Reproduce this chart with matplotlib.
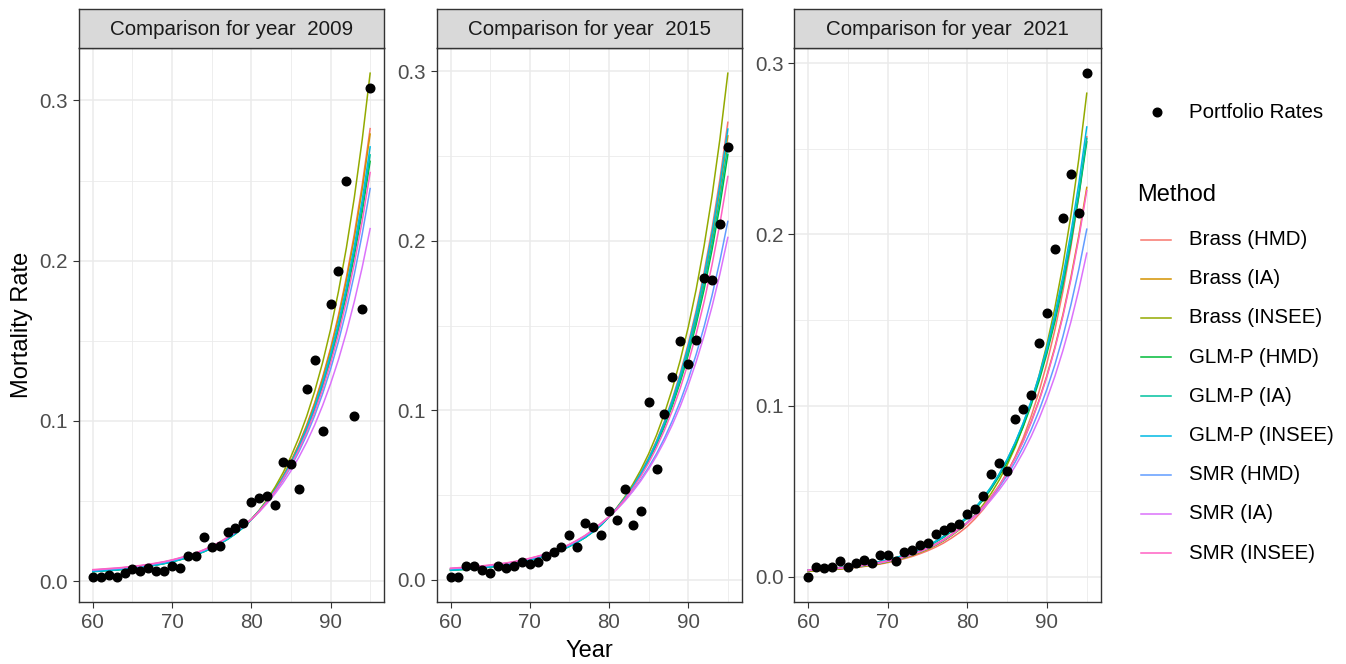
import matplotlib
matplotlib.use('Agg')
import matplotlib.pyplot as plt
from matplotlib.ticker import MultipleLocator, FormatStrFormatter

plt.rcParams['font.family'] = ['Liberation Sans', 'DejaVu Sans']

ages = list(range(60, 96))
years = [2009, 2015, 2021]
methods = ['Brass (HMD)', 'Brass (IA)', 'Brass (INSEE)',
           'GLM-P (HMD)', 'GLM-P (IA)', 'GLM-P (INSEE)',
           'SMR (HMD)', 'SMR (IA)', 'SMR (INSEE)']
colors = ['#F8766D', '#D39200', '#93AA00', '#00BA38', '#00C19F',
          '#00B9E3', '#619CFF', '#DB72FB', '#FF61C3']

# observed portfolio rates, ages 60..95
rates_2009 = [0.0027, 0.0027, 0.0037, 0.0027, 0.0048, 0.0073, 0.0064, 0.0085, 0.0064, 0.0064,
              0.0096, 0.0083, 0.0158, 0.0158, 0.0274, 0.0210, 0.0220, 0.0308, 0.0329, 0.0360,
              0.0497, 0.0520, 0.0532, 0.0476, 0.0742, 0.0732, 0.0572, 0.1200, 0.1380, 0.0934,
              0.1732, 0.1934, 0.2495, 0.1029, 0.1699, 0.3080]
rates_2015 = [0.0016, 0.0016, 0.0079, 0.0079, 0.0059, 0.0040, 0.0079, 0.0069, 0.0079, 0.0101,
              0.0089, 0.0101, 0.0141, 0.0160, 0.0190, 0.0263, 0.0190, 0.0333, 0.0313, 0.0263,
              0.0406, 0.0352, 0.0535, 0.0323, 0.0406, 0.1051, 0.0655, 0.0976, 0.1194, 0.1408,
              0.1273, 0.1416, 0.1780, 0.1770, 0.2100, 0.2554]
rates_2021 = [0.0000, 0.0059, 0.0049, 0.0059, 0.0094, 0.0059, 0.0080, 0.0100, 0.0080, 0.0129,
              0.0129, 0.0094, 0.0143, 0.0159, 0.0188, 0.0198, 0.0251, 0.0271, 0.0290, 0.0310,
              0.0369, 0.0398, 0.0473, 0.0600, 0.0663, 0.0620, 0.0922, 0.0980, 0.1061, 0.1363,
              0.1539, 0.1912, 0.2098, 0.2353, 0.2122, 0.2941]

# fitted curves, 2009
brass_hmd_2009 = [0.0067, 0.0070, 0.0074, 0.0077, 0.0082, 0.0087, 0.0093, 0.0100, 0.0108, 0.0117, 0.0128, 0.0141, 0.0155, 0.0172, 0.0191, 0.0213, 0.0239, 0.0269, 0.0303, 0.0343, 0.0385, 0.0440, 0.0502, 0.0574, 0.0655, 0.0748, 0.0854, 0.0976, 0.1114, 0.1273, 0.1453, 0.1660, 0.1896, 0.2165, 0.2473, 0.2824]
brass_ia_2009 = [0.0065, 0.0068, 0.0072, 0.0075, 0.0080, 0.0085, 0.0091, 0.0098, 0.0106, 0.0115, 0.0126, 0.0139, 0.0153, 0.0170, 0.0189, 0.0211, 0.0237, 0.0267, 0.0301, 0.0341, 0.0385, 0.0439, 0.0501, 0.0572, 0.0653, 0.0745, 0.0850, 0.0970, 0.1107, 0.1263, 0.1442, 0.1645, 0.1877, 0.2142, 0.2445, 0.2790]
brass_insee_2009 = [0.0063, 0.0066, 0.0070, 0.0073, 0.0078, 0.0083, 0.0089, 0.0096, 0.0104, 0.0113, 0.0124, 0.0137, 0.0151, 0.0168, 0.0187, 0.0209, 0.0235, 0.0265, 0.0299, 0.0339, 0.0385, 0.0443, 0.0510, 0.0587, 0.0676, 0.0777, 0.0895, 0.1030, 0.1185, 0.1364, 0.1570, 0.1807, 0.2080, 0.2393, 0.2755, 0.3170]
glm_hmd_2009 = [0.0059, 0.0062, 0.0066, 0.0069, 0.0074, 0.0079, 0.0085, 0.0092, 0.0100, 0.0109, 0.0120, 0.0133, 0.0147, 0.0164, 0.0183, 0.0205, 0.0231, 0.0261, 0.0295, 0.0335, 0.0385, 0.0438, 0.0497, 0.0565, 0.0642, 0.0730, 0.0829, 0.0942, 0.1071, 0.1217, 0.1382, 0.1571, 0.1785, 0.2029, 0.2305, 0.2620]
glm_ia_2009 = [0.0060, 0.0063, 0.0067, 0.0070, 0.0075, 0.0080, 0.0086, 0.0093, 0.0101, 0.0110, 0.0121, 0.0134, 0.0148, 0.0165, 0.0184, 0.0206, 0.0232, 0.0262, 0.0296, 0.0336, 0.0385, 0.0438, 0.0498, 0.0567, 0.0645, 0.0733, 0.0834, 0.0949, 0.1079, 0.1228, 0.1397, 0.1589, 0.1807, 0.2056, 0.2338, 0.2660]
glm_insee_2009 = [0.0061, 0.0064, 0.0068, 0.0071, 0.0076, 0.0081, 0.0087, 0.0094, 0.0102, 0.0111, 0.0122, 0.0135, 0.0149, 0.0166, 0.0185, 0.0207, 0.0233, 0.0263, 0.0297, 0.0337, 0.0385, 0.0438, 0.0499, 0.0569, 0.0648, 0.0738, 0.0840, 0.0957, 0.1090, 0.1242, 0.1414, 0.1611, 0.1834, 0.2089, 0.2379, 0.2710]
smr_hmd_2009 = [0.0069, 0.0072, 0.0076, 0.0079, 0.0084, 0.0089, 0.0095, 0.0102, 0.0110, 0.0119, 0.0130, 0.0143, 0.0157, 0.0174, 0.0193, 0.0215, 0.0241, 0.0271, 0.0305, 0.0345, 0.0385, 0.0436, 0.0493, 0.0557, 0.0631, 0.0713, 0.0807, 0.0913, 0.1033, 0.1169, 0.1322, 0.1496, 0.1692, 0.1914, 0.2166, 0.2450]
smr_ia_2009 = [0.0070, 0.0073, 0.0077, 0.0080, 0.0085, 0.0090, 0.0096, 0.0103, 0.0111, 0.0120, 0.0131, 0.0144, 0.0158, 0.0175, 0.0194, 0.0216, 0.0242, 0.0272, 0.0306, 0.0346, 0.0385, 0.0432, 0.0486, 0.0546, 0.0613, 0.0688, 0.0773, 0.0868, 0.0975, 0.1096, 0.1231, 0.1382, 0.1553, 0.1744, 0.1959, 0.2200]
smr_insee_2009 = [0.0072, 0.0075, 0.0079, 0.0082, 0.0087, 0.0092, 0.0098, 0.0105, 0.0113, 0.0122, 0.0133, 0.0146, 0.0160, 0.0177, 0.0196, 0.0218, 0.0244, 0.0274, 0.0308, 0.0348, 0.0385, 0.0437, 0.0495, 0.0562, 0.0637, 0.0723, 0.0820, 0.0930, 0.1055, 0.1197, 0.1358, 0.1540, 0.1747, 0.1982, 0.2248, 0.2550]

# fitted curves, 2015
brass_hmd_2015 = [0.0062, 0.0065, 0.0068, 0.0072, 0.0076, 0.0081, 0.0087, 0.0093, 0.0101, 0.0110, 0.0121, 0.0133, 0.0146, 0.0163, 0.0181, 0.0203, 0.0228, 0.0256, 0.0290, 0.0328, 0.0370, 0.0422, 0.0482, 0.0551, 0.0629, 0.0718, 0.0819, 0.0935, 0.1068, 0.1219, 0.1392, 0.1589, 0.1814, 0.2071, 0.2365, 0.2700]
brass_ia_2015 = [0.0060, 0.0063, 0.0066, 0.0070, 0.0074, 0.0079, 0.0085, 0.0091, 0.0099, 0.0108, 0.0119, 0.0131, 0.0144, 0.0161, 0.0179, 0.0201, 0.0226, 0.0254, 0.0288, 0.0326, 0.0370, 0.0422, 0.0480, 0.0547, 0.0624, 0.0711, 0.0810, 0.0922, 0.1051, 0.1198, 0.1364, 0.1555, 0.1771, 0.2018, 0.2300, 0.2620]
brass_insee_2015 = [0.0058, 0.0061, 0.0064, 0.0068, 0.0072, 0.0077, 0.0083, 0.0089, 0.0097, 0.0106, 0.0117, 0.0129, 0.0142, 0.0159, 0.0177, 0.0199, 0.0224, 0.0252, 0.0286, 0.0324, 0.0370, 0.0425, 0.0489, 0.0562, 0.0646, 0.0742, 0.0853, 0.0981, 0.1128, 0.1296, 0.1490, 0.1713, 0.1969, 0.2263, 0.2601, 0.2990]
glm_hmd_2015 = [0.0054, 0.0057, 0.0060, 0.0064, 0.0068, 0.0073, 0.0079, 0.0085, 0.0093, 0.0102, 0.0113, 0.0125, 0.0138, 0.0155, 0.0173, 0.0195, 0.0220, 0.0248, 0.0282, 0.0320, 0.0370, 0.0420, 0.0478, 0.0543, 0.0616, 0.0700, 0.0796, 0.0904, 0.1027, 0.1167, 0.1326, 0.1506, 0.1712, 0.1945, 0.2209, 0.2510]
glm_ia_2015 = [0.0055, 0.0058, 0.0061, 0.0065, 0.0069, 0.0074, 0.0080, 0.0086, 0.0094, 0.0103, 0.0114, 0.0126, 0.0139, 0.0156, 0.0174, 0.0196, 0.0221, 0.0249, 0.0283, 0.0321, 0.0370, 0.0421, 0.0479, 0.0545, 0.0620, 0.0705, 0.0802, 0.0912, 0.1038, 0.1181, 0.1343, 0.1528, 0.1739, 0.1978, 0.2250, 0.2560]
glm_insee_2015 = [0.0056, 0.0059, 0.0062, 0.0066, 0.0070, 0.0075, 0.0081, 0.0087, 0.0095, 0.0104, 0.0115, 0.0127, 0.0140, 0.0157, 0.0175, 0.0197, 0.0222, 0.0250, 0.0284, 0.0322, 0.0370, 0.0422, 0.0481, 0.0549, 0.0626, 0.0714, 0.0814, 0.0929, 0.1059, 0.1208, 0.1378, 0.1572, 0.1793, 0.2045, 0.2332, 0.2660]
smr_hmd_2015 = [0.0064, 0.0067, 0.0070, 0.0074, 0.0078, 0.0083, 0.0089, 0.0095, 0.0103, 0.0112, 0.0123, 0.0135, 0.0148, 0.0165, 0.0183, 0.0205, 0.0230, 0.0258, 0.0292, 0.0330, 0.0370, 0.0416, 0.0467, 0.0524, 0.0589, 0.0662, 0.0743, 0.0835, 0.0938, 0.1053, 0.1183, 0.1329, 0.1492, 0.1676, 0.1883, 0.2115]
smr_ia_2015 = [0.0065, 0.0068, 0.0071, 0.0075, 0.0079, 0.0084, 0.0090, 0.0096, 0.0104, 0.0113, 0.0124, 0.0136, 0.0149, 0.0166, 0.0184, 0.0206, 0.0231, 0.0259, 0.0293, 0.0331, 0.0370, 0.0414, 0.0464, 0.0520, 0.0582, 0.0652, 0.0730, 0.0817, 0.0915, 0.1024, 0.1147, 0.1285, 0.1439, 0.1611, 0.1804, 0.2020]
smr_insee_2015 = [0.0067, 0.0070, 0.0073, 0.0077, 0.0081, 0.0086, 0.0092, 0.0098, 0.0106, 0.0115, 0.0126, 0.0138, 0.0151, 0.0168, 0.0186, 0.0208, 0.0233, 0.0261, 0.0295, 0.0333, 0.0370, 0.0419, 0.0474, 0.0537, 0.0608, 0.0688, 0.0779, 0.0882, 0.0998, 0.1130, 0.1280, 0.1449, 0.1640, 0.1857, 0.2102, 0.2380]

# fitted curves, 2021
brass_hmd_2021 = [0.0033, 0.0036, 0.0039, 0.0042, 0.0045, 0.0050, 0.0055, 0.0060, 0.0067, 0.0074, 0.0083, 0.0093, 0.0105, 0.0118, 0.0134, 0.0152, 0.0173, 0.0197, 0.0226, 0.0258, 0.0295, 0.0341, 0.0394, 0.0455, 0.0525, 0.0607, 0.0701, 0.0810, 0.0936, 0.1081, 0.1249, 0.1443, 0.1667, 0.1926, 0.2225, 0.2570]
brass_ia_2021 = [0.0034, 0.0037, 0.0040, 0.0043, 0.0047, 0.0052, 0.0057, 0.0063, 0.0070, 0.0078, 0.0088, 0.0099, 0.0111, 0.0126, 0.0143, 0.0162, 0.0185, 0.0211, 0.0242, 0.0277, 0.0315, 0.0359, 0.0410, 0.0468, 0.0534, 0.0609, 0.0695, 0.0792, 0.0904, 0.1031, 0.1177, 0.1342, 0.1531, 0.1747, 0.1993, 0.2274]
brass_insee_2021 = [0.0033, 0.0036, 0.0039, 0.0042, 0.0046, 0.0051, 0.0056, 0.0062, 0.0069, 0.0077, 0.0087, 0.0098, 0.0110, 0.0125, 0.0142, 0.0161, 0.0184, 0.0210, 0.0241, 0.0276, 0.0315, 0.0365, 0.0422, 0.0488, 0.0565, 0.0654, 0.0757, 0.0877, 0.1015, 0.1174, 0.1359, 0.1573, 0.1821, 0.2108, 0.2440, 0.2824]
glm_hmd_2021 = [0.0039, 0.0042, 0.0045, 0.0049, 0.0053, 0.0058, 0.0064, 0.0070, 0.0078, 0.0087, 0.0097, 0.0109, 0.0122, 0.0138, 0.0157, 0.0177, 0.0202, 0.0230, 0.0264, 0.0302, 0.0345, 0.0394, 0.0450, 0.0514, 0.0588, 0.0671, 0.0767, 0.0876, 0.1001, 0.1143, 0.1306, 0.1492, 0.1704, 0.1947, 0.2224, 0.2540]
glm_ia_2021 = [0.0040, 0.0043, 0.0047, 0.0050, 0.0055, 0.0060, 0.0066, 0.0072, 0.0080, 0.0089, 0.0100, 0.0112, 0.0126, 0.0142, 0.0161, 0.0183, 0.0208, 0.0237, 0.0272, 0.0311, 0.0355, 0.0405, 0.0462, 0.0527, 0.0601, 0.0686, 0.0782, 0.0893, 0.1018, 0.1162, 0.1325, 0.1512, 0.1724, 0.1967, 0.2244, 0.2560]
glm_insee_2021 = [0.0039, 0.0043, 0.0046, 0.0049, 0.0054, 0.0059, 0.0065, 0.0071, 0.0079, 0.0088, 0.0099, 0.0111, 0.0124, 0.0140, 0.0159, 0.0180, 0.0205, 0.0234, 0.0268, 0.0306, 0.0350, 0.0400, 0.0458, 0.0524, 0.0599, 0.0685, 0.0784, 0.0897, 0.1025, 0.1173, 0.1342, 0.1535, 0.1755, 0.2008, 0.2297, 0.2627]
smr_hmd_2021 = [0.0037, 0.0040, 0.0043, 0.0046, 0.0050, 0.0055, 0.0060, 0.0066, 0.0073, 0.0081, 0.0091, 0.0102, 0.0114, 0.0129, 0.0146, 0.0165, 0.0188, 0.0214, 0.0245, 0.0280, 0.0320, 0.0362, 0.0409, 0.0463, 0.0524, 0.0592, 0.0670, 0.0758, 0.0857, 0.0970, 0.1097, 0.1240, 0.1403, 0.1587, 0.1795, 0.2030]
smr_ia_2021 = [0.0038, 0.0041, 0.0044, 0.0047, 0.0051, 0.0056, 0.0061, 0.0067, 0.0074, 0.0082, 0.0092, 0.0103, 0.0115, 0.0130, 0.0147, 0.0166, 0.0189, 0.0215, 0.0246, 0.0281, 0.0315, 0.0355, 0.0400, 0.0451, 0.0508, 0.0572, 0.0645, 0.0727, 0.0819, 0.0923, 0.1040, 0.1172, 0.1321, 0.1488, 0.1677, 0.1890]
smr_insee_2021 = [0.0040, 0.0043, 0.0046, 0.0049, 0.0053, 0.0058, 0.0063, 0.0069, 0.0076, 0.0084, 0.0094, 0.0105, 0.0117, 0.0132, 0.0149, 0.0168, 0.0191, 0.0217, 0.0248, 0.0283, 0.0315, 0.0359, 0.0410, 0.0467, 0.0532, 0.0607, 0.0692, 0.0789, 0.0900, 0.1026, 0.1170, 0.1334, 0.1521, 0.1734, 0.1978, 0.2255]

rates = [rates_2009, rates_2015, rates_2021]
fits = [
    [brass_hmd_2009, brass_ia_2009, brass_insee_2009, glm_hmd_2009, glm_ia_2009,
     glm_insee_2009, smr_hmd_2009, smr_ia_2009, smr_insee_2009],
    [brass_hmd_2015, brass_ia_2015, brass_insee_2015, glm_hmd_2015, glm_ia_2015,
     glm_insee_2015, smr_hmd_2015, smr_ia_2015, smr_insee_2015],
    [brass_hmd_2021, brass_ia_2021, brass_insee_2021, glm_hmd_2021, glm_ia_2021,
     glm_insee_2021, smr_hmd_2021, smr_ia_2021, smr_insee_2021],
]

W, H = 1346, 664
fig = plt.figure(figsize=(W / 100, H / 100), dpi=100)


def box(left, top, width, height):
    return [left / W, 1 - (top + height) / H, width / W, height / H]


panel_left = [79, 436.7, 794.3]
panel_width = [305, 305, 306.4]
small = 14.8
big = 17

for i, year in enumerate(years):
    ax = fig.add_axes(box(panel_left[i], 48, panel_width[i], 554))
    for vals, c in zip(fits[i], colors):
        ax.plot(ages, vals, color=c, lw=1.1, zorder=3)
    ax.plot(ages, rates[i], 'o', color='black', ms=6.2, zorder=4)

    lo = min(min(rates[i]), min(min(f) for f in fits[i]))
    hi = max(max(rates[i]), max(max(f) for f in fits[i]))
    pad = 0.05 * (hi - lo)
    ax.set_ylim(lo - pad, hi + pad)
    ax.set_xlim(60 - 1.75, 95 + 1.75)

    ax.xaxis.set_major_locator(MultipleLocator(10))
    ax.xaxis.set_minor_locator(MultipleLocator(5))
    ax.yaxis.set_major_locator(MultipleLocator(0.1))
    ax.yaxis.set_minor_locator(MultipleLocator(0.05))
    ax.yaxis.set_major_formatter(FormatStrFormatter('%.1f'))
    ax.grid(which='major', color='#EBEBEB', lw=1.1)
    ax.grid(which='minor', color='#EBEBEB', lw=0.6)
    ax.set_axisbelow(True)
    ax.tick_params(which='minor', length=0)
    ax.tick_params(which='major', length=4.6, width=0.8, color='#333333',
                   labelcolor='#4D4D4D', labelsize=small, pad=3.2)
    for s in ax.spines.values():
        s.set_color('#333333')
        s.set_linewidth(1.0)

    sax = fig.add_axes(box(panel_left[i], 9, panel_width[i], 39))
    sax.set_facecolor('#D9D9D9')
    sax.set_xticks([])
    sax.set_yticks([])
    for s in sax.spines.values():
        s.set_color('#333333')
        s.set_linewidth(1.0)
    sax.text(0.5, 0.48, f'Comparison for year  {year}', ha='center', va='center',
             fontsize=small, color='#1A1A1A', transform=sax.transAxes)

fig.text(22 / W, 1 - 325 / H, 'Mortality Rate', rotation=90, ha='center', va='center',
         fontsize=big)
fig.text(589.2 / W, 1 - 651 / H, 'Year', ha='center', va='center', fontsize=big)

# legend
lax = fig.add_axes([0, 0, 1, 1])
lax.set_xlim(0, W)
lax.set_ylim(H, 0)
lax.axis('off')
lax.plot([1157], [112], 'o', color='black', ms=6.2)
lax.text(1189, 112, 'Portfolio Rates', va='center', fontsize=small)
lax.text(1137, 195, 'Method', va='center', fontsize=big)
for k, (m, c) in enumerate(zip(methods, colors)):
    y = 239.5 + k * 39.2
    lax.plot([1141, 1171], [y, y], color=c, lw=1.1)
    lax.text(1189, y, m, va='center', fontsize=small)

fig.savefig('out.png', dpi=100)
